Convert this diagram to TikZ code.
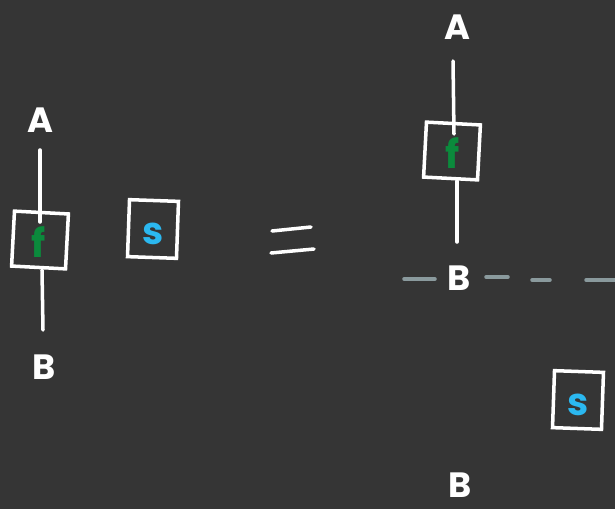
\documentclass[tikz,border=0pt]{standalone}
\usepackage{fontspec}
\setmainfont{Poppins}
\definecolor{bg}{HTML}{353535}
\definecolor{fgreen}{HTML}{0B8A3C}
\definecolor{scyan}{HTML}{2BB8F0}
\definecolor{dashgray}{HTML}{8A9A9D}
\begin{document}
\begin{tikzpicture}[x=0.05cm,y=-0.05cm,
  ink/.style={white,line width=5pt,line cap=round},
  lbl/.style={white,font=\fontsize{50}{50}\selectfont\bfseries,inner sep=0pt},
  fbox/.style={draw=white,line width=5pt,minimum width=2.7cm,minimum height=2.75cm,inner sep=0pt,rotate=-3},
  sbox/.style={draw=white,line width=5pt,minimum width=2.45cm,minimum height=2.85cm,inner sep=0pt,rotate=-2},
  fl/.style={fgreen,font=\fontsize{56}{56}\selectfont\bfseries,inner sep=0pt},
  sl/.style={scyan,font=\fontsize{54}{54}\selectfont\bfseries,inner sep=0pt},
  sep/.style={dashgray,line width=5pt,line cap=round}]
\fill[bg] (0,0) rectangle (615,509);
\useasboundingbox (0,0) rectangle (615,509);
% left side
\node[lbl] (A1) at (40,120) {A};
\node[lbl] (B1) at (44,367) {B};
\node[fbox] (f1) at (40,240) {};
\node[fl] (fl1) at (39,242) {f};
\coordinate (a1) at (40,150);
\coordinate (a1e) at (40,222);
\coordinate (b1s) at (42,270);
\coordinate (b1) at (43,330);
\draw[ink] (a1) -- (a1e);
\draw[ink] (b1s) -- (b1);
\node[sbox] (s1) at (153,229) {};
\node[sl] (sl1) at (153,234) {s};
% equals
\coordinate (e1) at (272,231);
\coordinate (e2) at (311,227);
\coordinate (e3) at (271,253);
\coordinate (e4) at (314,249);
\draw[ink] (e1) -- (e2);
\draw[ink] (e3) -- (e4);
% right side
\node[lbl] (A2) at (457,27) {A};
\node[fbox] (f2) at (452,151) {};
\node[fl] (fl2) at (453,153) {f};
\coordinate (a2) at (453,61);
\coordinate (a2e) at (454,134);
\coordinate (b2s) at (457,181);
\coordinate (b2) at (457,242);
\draw[ink] (a2) -- (a2e);
\draw[ink] (b2s) -- (b2);
\node[lbl] (B2) at (459,278) {B};
\coordinate (d0) at (404,279);
\coordinate (d1) at (435,279);
\draw[sep] (d0) -- (d1);
\coordinate (d2) at (486,277);
\coordinate (d3) at (508,277);
\draw[sep] (d2) -- (d3);
\coordinate (d4) at (532,280);
\coordinate (d5) at (550,280);
\draw[sep] (d4) -- (d5);
\coordinate (d6) at (586,280);
\coordinate (d7) at (618,280);
\draw[sep] (d6) -- (d7);
\node[sbox] (s2) at (578,400) {};
\node[sl] (sl2) at (578,405) {s};
\node[lbl] (B3) at (460,485) {B};
\end{tikzpicture}
\end{document}
